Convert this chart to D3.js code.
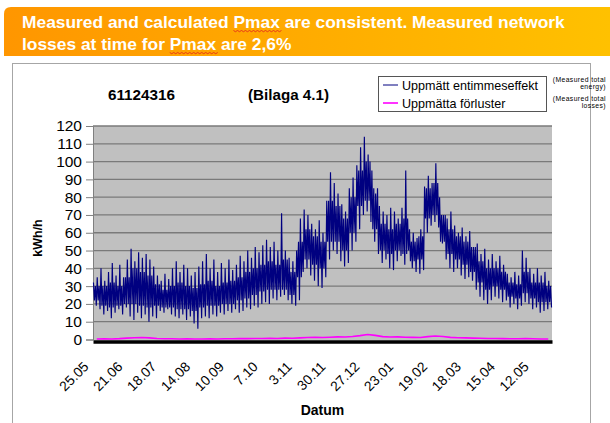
<!DOCTYPE html>
<html><head><meta charset="utf-8">
<script src="https://cdn.jsdelivr.net/npm/d3@7"></script>
<style>body{margin:0;background:#fff} svg{display:block}</style>
</head><body>
<svg id="c" width="610" height="423"></svg>
<script>
// ---------- data ----------
const headline = ["Measured and calculated Pmax are consistent. Measured network",
                  "losses at time for Pmax are 2,6%"];
const meterId = "61124316";
const appendix = "(Bilaga 4.1)";
const seriesNames = ["Uppmätt entimmeseffekt", "Uppmätta förluster"];
const seriesNotes = [["(Measured total", "energy)"], ["(Measured total", "losses)"]];
const yTitle = "kWh/h";
const xTitle = "Datum";
const yTicks = [0, 10, 20, 30, 40, 50, 60, 70, 80, 90, 100, 110, 120];
const xTickLabels = ["25.05", "21.06", "18.07", "14.08", "10.09", "7.10", "3.11",
                     "30.11", "27.12", "23.01", "19.02", "18.03", "15.04", "12.05"];
const xTickStepDays = 27;
const totalDays = 366;
// hourly power: highest / lowest value in each 3-day period (kWh/h)
const periodDays = 3;
const powerHigh = [32,35,40,33,38,43,36,42,35,45, 51,44,49,46,48,45,41,36,33,37,
                   34,40,44,38,42,40,36,38,41,44, 48,40,45,38,43,40,45,39,42,47,
                   44,50,46,52,49,53,56,52,55,50, 71,50,46,44,50,68,73,70,65,62,
                   67,60,78,94,88,82,76,72,85,91, 98,108,114,104,95,82,75,72,70,74,
                   72,68,74,95,62,60,57,62,86,92, 88,99,80,70,68,72,64,60,63,58,
                   61,52,54,48,51,45,48,44,47,42, 37,35,38,36,50,46,40,37,40,36,
                   38,33];
const powerLow  = [19,17,14,16,12,15,17,14,18,13, 11,15,12,14,10,13,12,16,15,17,
                   14,13,12,14,11,13,9,6,12,13,   12,14,13,15,14,16,15,17,15,16,
                   18,17,19,18,20,21,20,23,22,24, 25,22,20,19,22,38,40,36,33,30,
                   29,35,45,50,48,44,41,43,50,55, 62,70,72,66,55,48,43,45,40,39,
                   44,47,42,50,40,38,37,39,60,64, 66,63,54,45,40,38,40,36,34,35,
                   33,28,24,22,20,22,24,23,21,22, 18,20,17,19,21,20,17,18,15,16,
                   17,18];
// dense core of the hourly trace, 6-day steps (kWh/h)
const coreStepDays = 6;
const coreHigh = [30,30,32,30,35,40,38,36,31,28, 30,32,30,29,31,33,30,32,33,35,
                  38,40,42,44,42,45,38,55,62,58, 55,78,75,68,80,95,100,85,65,62,
                  65,68,55,58,85,88,70,62,58,55, 52,44,40,40,38,32,31,38,32,32,
                  30];
const coreLow  = [22,19,18,19,20,20,19,18,19,18, 18,17,17,16,18,19,19,20,20,22,
                  23,25,27,28,28,28,25,35,45,42, 40,55,55,50,60,75,78,62,50,48,
                  50,48,44,45,68,70,55,48,45,42, 38,32,28,30,28,24,23,26,23,21,
                  21];
// measured losses, 6-day steps (kWh/h)
const lossStepDays = 6;
const losses = [0.3,0.4,0.3,0.5,0.8,1.0,1.1,0.9,0.6,0.4, 0.4,0.3,0.4,0.3,0.3,0.4,0.3,0.4,0.4,0.5,
                0.5,0.6,0.6,0.7,0.6,0.8,0.7,0.9,1.1,1.2, 1.1,1.3,1.5,1.4,1.7,2.2,2.8,2.3,1.6,1.4,
                1.5,1.3,1.2,1.1,1.6,2.0,1.7,1.2,1.0,0.9, 0.8,0.7,0.6,0.6,0.5,0.4,0.4,0.5,0.4,0.3,
                0.3];

// ---------- drawing ----------
const svg = d3.select("#c");
const FONT = "'Liberation Sans', Arial, sans-serif";

function fitText(sel, target) {
  const n = sel.node();
  const fs = parseFloat(sel.attr("font-size"));
  const w = n.getComputedTextLength();
  sel.attr("font-size", (fs * target / w).toFixed(2));
}

// banner
const defs = svg.append("defs");
const grad = defs.append("linearGradient").attr("id", "bg").attr("x1", 0).attr("x2", 1).attr("y1", 0).attr("y2", 0);
grad.append("stop").attr("offset", "0%").attr("stop-color", "#ff9600");
grad.append("stop").attr("offset", "100%").attr("stop-color", "#ffc200");
const bx = 4, by = 7, bw = 620, bh = 49, r = 7;
svg.append("path")
  .attr("d", `M${bx},${by + bh} L${bx},${by + r} Q${bx},${by} ${bx + r},${by} L${bx + bw},${by} L${bx + bw},${by + bh} Z`)
  .attr("fill", "url(#bg)");

const hl = headline.map((t, i) => svg.append("text")
  .attr("x", 22).attr("y", 28 + i * 22)
  .attr("font-family", FONT).attr("font-weight", "bold").attr("font-size", 16)
  .attr("fill", "#fff").text(t));
fitText(hl[0], 543);
hl[1].attr("font-size", hl[0].attr("font-size"));
// spell-check squiggles under "Pmax"
hl.forEach((s, i) => {
  const t = headline[i];
  const idx = t.indexOf("Pmax");
  const n = s.node();
  const x0 = n.getStartPositionOfChar(idx).x;
  const w = n.getSubStringLength(idx, 4);
  const yb = 28 + i * 22 + 2.5;
  let d = `M${x0},${yb}`;
  for (let xx = x0, k = 0; xx < x0 + w; xx += 2, k++) d += ` L${xx + 2},${yb + (k % 2 ? 0 : 1.2)}`;
  svg.append("path").attr("d", d).attr("fill", "none").attr("stroke", "#e02020").attr("stroke-width", 0.8);
});

// chart frame
svg.append("rect").attr("x", 12.5).attr("y", 63.5).attr("width", 578).attr("height", 400)
  .attr("fill", "#fff").attr("stroke", "#a6a6a6").attr("stroke-width", 1);

// plot
const x = d3.scaleLinear().domain([0, totalDays]).range([93, 552]);
const y = d3.scaleLinear().domain([0, 120]).range([339.5, 126]);

svg.append("rect").attr("x", x(0)).attr("y", y(120)).attr("width", x(totalDays) - x(0)).attr("height", y(0) - y(120) + 1)
  .attr("fill", "#c0c0c0");

// gridlines
svg.append("g").selectAll("line").data(yTicks.filter(v => v > 0)).join("line")
  .attr("x1", x(0)).attr("x2", x(totalDays))
  .attr("y1", d => y(d)).attr("y2", d => y(d))
  .attr("stroke", "#7a7a7a").attr("stroke-width", 1.3);

// y axis
const yAxis = d3.axisLeft(y).tickValues(yTicks).tickSize(7).tickPadding(4);
const gy = svg.append("g").attr("transform", `translate(${x(0)},0)`).call(yAxis);
gy.select(".domain").attr("stroke", "#808080");
gy.selectAll(".tick line").attr("stroke", "#808080");
gy.selectAll(".tick text").attr("font-family", FONT).attr("font-size", 15.5).attr("fill", "#000");

const navy = "#000080";
// hourly trace: in each 3-day period the line runs peak -> core low -> core high -> trough
const pts = [];
powerHigh.forEach((h, k) => {
  const c = Math.floor(k * periodDays / coreStepDays);
  const t0 = k * periodDays;
  pts.push([t0 + 0.375, h]);
  pts.push([t0 + 1.125, coreLow[c]]);
  pts.push([t0 + 1.875, coreHigh[c]]);
  pts.push([t0 + 2.625, powerLow[k]]);
});
const line = d3.line().x(d => x(d[0])).y(d => y(d[1]));
svg.append("path").datum(pts).attr("d", line)
  .attr("fill", "none").attr("stroke", navy).attr("stroke-width", 1.15);

// losses
const lpts = losses.map((v, k) => [k * lossStepDays + 3, v]);
svg.append("path").datum(lpts).attr("d", line)
  .attr("fill", "none").attr("stroke", "#ff00ff").attr("stroke-width", 1.6);

// x axis (thick black base line)
const xAxis = d3.axisBottom(x)
  .tickValues(xTickLabels.map((_, i) => i * xTickStepDays))
  .tickFormat((d, i) => xTickLabels[i]).tickSize(0);
const gx = svg.append("g").attr("transform", `translate(0,341.5)`).call(xAxis);
gx.select(".domain").attr("stroke", "#000").attr("stroke-width", 3.5);
gx.selectAll(".tick text")
  .attr("font-family", FONT).attr("font-size", 13.8).attr("fill", "#000")
  .attr("text-anchor", "end").attr("dy", 0).attr("y", 0)
  .attr("transform", "translate(-4,26) rotate(-45)");

// axis titles
svg.append("text").attr("transform", "translate(42,238) rotate(-90)")
  .attr("text-anchor", "middle").attr("font-family", FONT).attr("font-weight", "bold")
  .attr("font-size", 12.5).text(yTitle);
svg.append("text").attr("x", (x(0) + x(totalDays)) / 2).attr("y", 415)
  .attr("text-anchor", "middle").attr("font-family", FONT).attr("font-weight", "bold")
  .attr("font-size", 14).text(xTitle);

// chart titles
const t1 = svg.append("text").attr("x", 108).attr("y", 100).attr("font-family", FONT)
  .attr("font-weight", "bold").attr("font-size", 15).text(meterId);
fitText(t1, 67);
const t2 = svg.append("text").attr("x", 248).attr("y", 100).attr("font-family", FONT)
  .attr("font-weight", "bold").attr("font-size", 15).text(appendix);
fitText(t2, 81);

// legend
const lg = svg.append("g");
lg.append("rect").attr("x", 378.5).attr("y", 76.5).attr("width", 168).attr("height", 35)
  .attr("fill", "#fff").attr("stroke", "#555").attr("stroke-width", 1);
const colors = [navy, "#ff00ff"];
seriesNames.forEach((nm, i) => {
  const cy = 85 + i * 18;
  lg.append("line").attr("x1", 383).attr("x2", 398).attr("y1", cy).attr("y2", cy)
    .attr("stroke", colors[i]).attr("stroke-width", i ? 1.6 : 1);
  const tt = lg.append("text").attr("x", 402).attr("y", cy + 5).attr("font-family", FONT)
    .attr("font-size", 13).text(nm);
  if (i === 0) fitText(tt, 136);
  else tt.attr("font-size", lg.select("text").attr("font-size"));
});

// side notes
seriesNotes.forEach((lines, i) => {
  lines.forEach((l, j) => {
    svg.append("text").attr("x", 606).attr("y", 82 + i * 19 + j * 7)
      .attr("text-anchor", "end").attr("font-family", FONT).attr("font-size", 6.8)
      .attr("letter-spacing", 0.4).attr("fill", "#000").text(l);
  });
});
</script>
</body></html>
